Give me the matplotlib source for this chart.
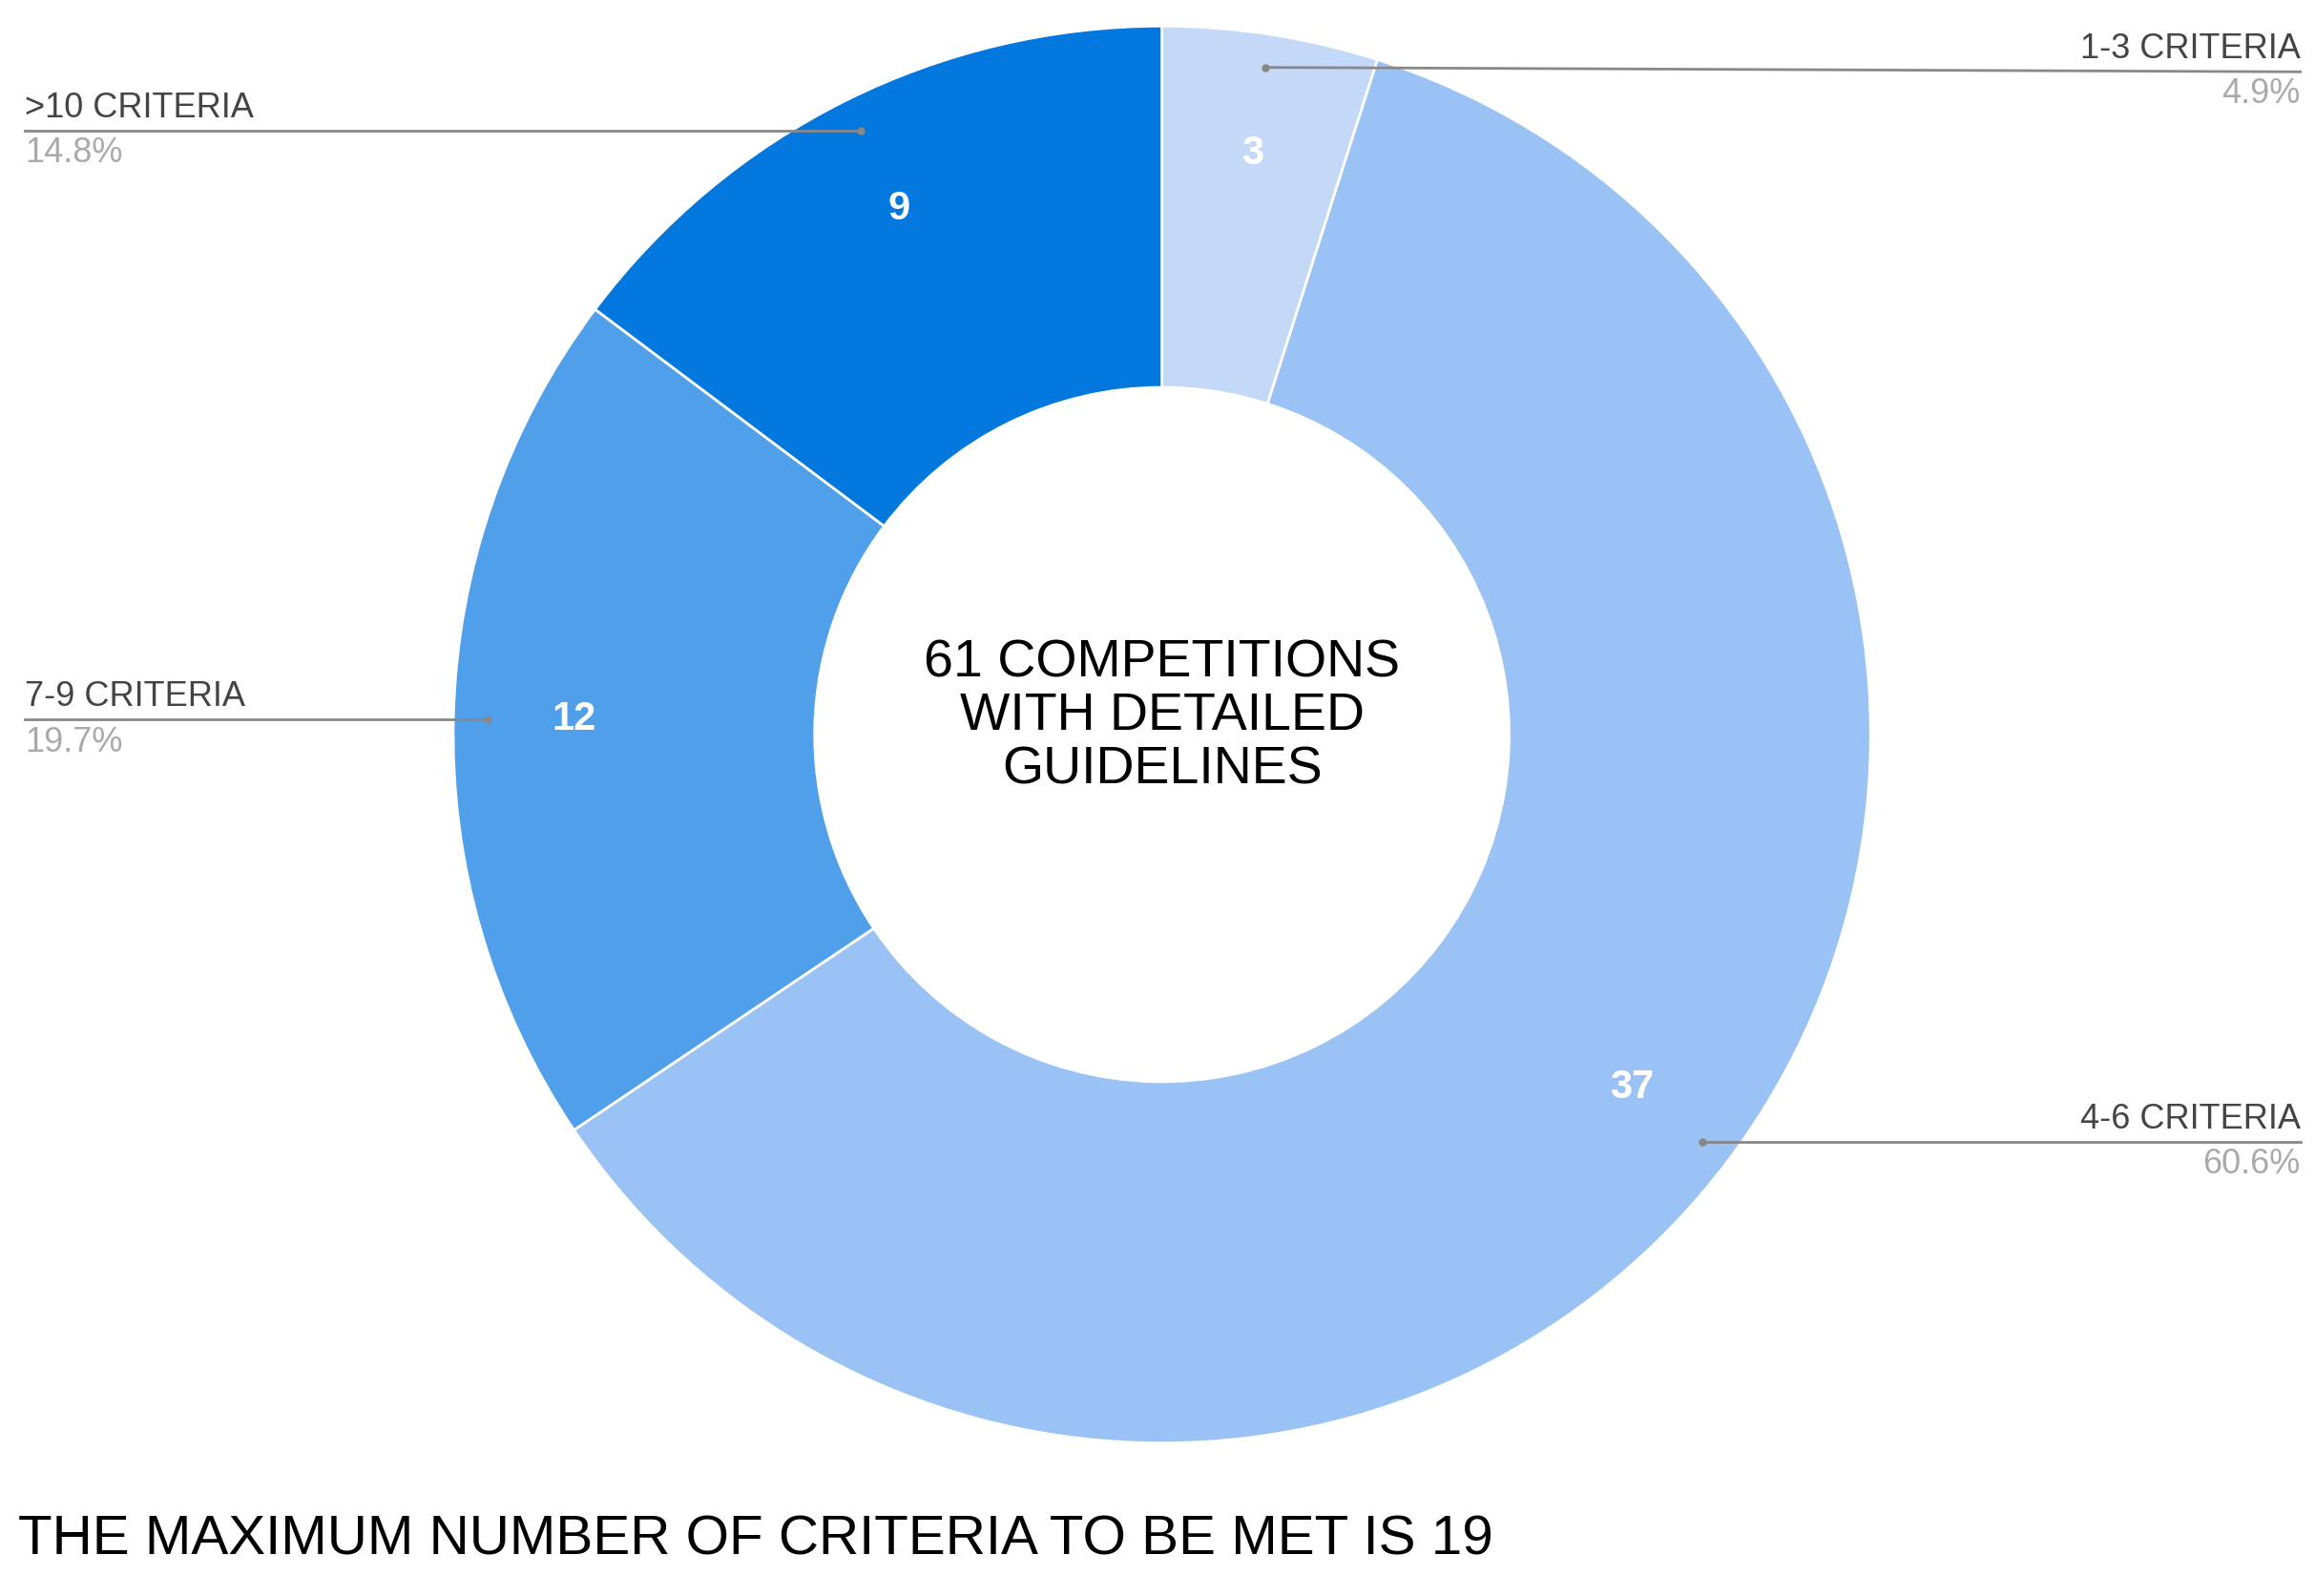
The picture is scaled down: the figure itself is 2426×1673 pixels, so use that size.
import matplotlib.pyplot as plt
import numpy as np

plt.rcParams['font.family'] = ['Liberation Sans', 'DejaVu Sans']

# data
categories = ["1-3 CRITERIA", "4-6 CRITERIA", "7-9 CRITERIA", ">10 CRITERIA"]
counts = [3, 37, 12, 9]
percents = ["4.9%", "60.6%", "19.7%", "14.8%"]
colors = ["#c3d9f7", "#9ac2f4", "#4f9feb", "#0277dd"]

W, H = 1568, 1080          # layout coordinates (scaled reference)
CX, CY, R = 787, 1080 - 497, 480
HOLE = 0.49

fig = plt.figure(figsize=(24.26, 16.73), dpi=100)
ax = fig.add_axes([0, 0, 1, 1])
ax.set_xlim(0, W)
ax.set_ylim(0, H)
ax.set_aspect("auto")
ax.axis("off")

wedges, _ = ax.pie(counts, colors=colors, startangle=90, counterclock=False,
                   center=(CX, CY), radius=R, frame=True,
                   wedgeprops=dict(width=R * (1 - HOLE), edgecolor="white", linewidth=2))
ax.set_xlim(0, W)
ax.set_ylim(0, H)
ax.axis("off")

# value labels inside ring
for w, c in zip(wedges, counts):
    ang = np.deg2rad((w.theta1 + w.theta2) / 2)
    rr = R * 0.83
    ax.text(CX + rr * np.cos(ang), CY + rr * np.sin(ang), str(c), color="white",
            fontsize=30, fontweight="bold", ha="center", va="center")

# leader lines and outside labels (anchor on ring, side)
anchors = {
    "1-3 CRITERIA": ((857, 45), "right", 48),
    "4-6 CRITERIA": ((1153, 773), "right", 773),
    "7-9 CRITERIA": ((330, 487), "left", 487),
    ">10 CRITERIA": ((583, 88), "left", 88),
}
for cat, pct in zip(categories, percents):
    (px, py), side, ly = anchors[cat]
    ex = 1558 if side == "right" else 17
    ax.plot([px, ex], [H - py, H - ly], color="#888888", lw=2)
    ax.plot(px, H - py, "o", color="#888888", ms=5)
    ha = side
    ax.text(ex, H - ly + 4, cat, ha=ha, va="bottom", fontsize=26, color="#444444")
    ax.text(ex, H - ly - 4, pct, ha=ha, va="top", fontsize=26, color="#aaaaaa")

ax.text(CX, CY + 12, "61 COMPETITIONS\nWITH DETAILED\nGUIDELINES", ha="center",
        va="center", fontsize=40, linespacing=1.1, color="black")

ax.text(12, H - 1043, "THE MAXIMUM NUMBER OF CRITERIA TO BE MET IS 19",
        ha="left", va="center", fontsize=42, color="black")

fig.savefig("out.png", dpi=100)
